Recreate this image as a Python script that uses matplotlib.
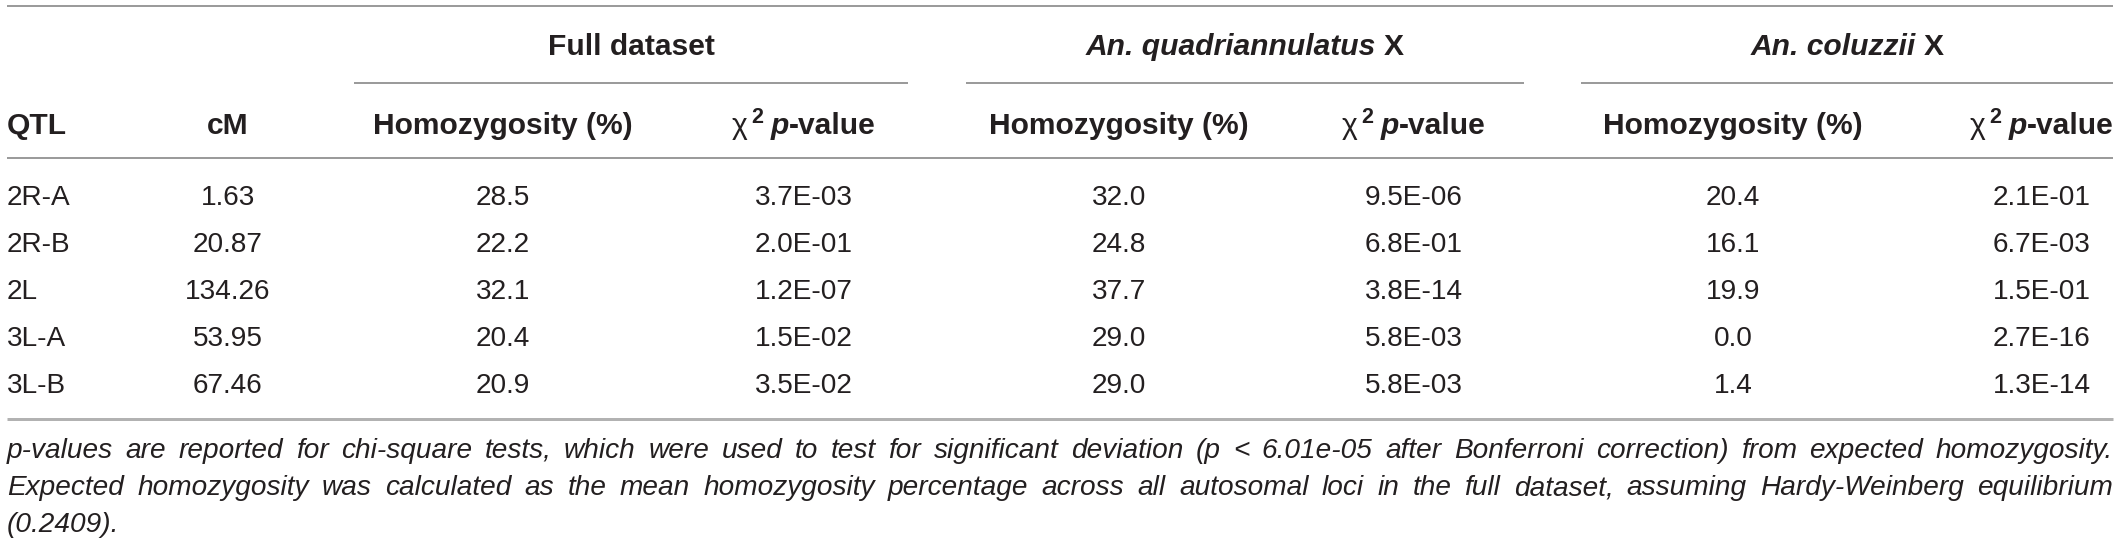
import matplotlib
matplotlib.use('Agg')
import matplotlib.pyplot as plt

# table values
qtl = ['2R-A', '2R-B', '2L', '3L-A', '3L-B']
cm = ['1.63', '20.87', '134.26', '53.95', '67.46']
full_hom = ['28.5', '22.2', '32.1', '20.4', '20.9']
full_p = ['3.7E-03', '2.0E-01', '1.2E-07', '1.5E-02', '3.5E-02']
quad_hom = ['32.0', '24.8', '37.7', '29.0', '29.0']
quad_p = ['9.5E-06', '6.8E-01', '3.8E-14', '5.8E-03', '5.8E-03']
col_hom = ['20.4', '16.1', '19.9', '0.0', '1.4']
col_p = ['2.1E-01', '6.7E-03', '1.5E-01', '2.7E-16', '1.3E-14']

groups = ['Full dataset', 'An. quadriannulatus', 'An. coluzzii']
footnote = [
    'p-values are reported for chi-square tests, which were used to test for significant deviation '
    '(p < 6.01e-05 after Bonferroni correction) from expected homozygosity.',
    'Expected homozygosity was calculated as the mean homozygosity percentage across all autosomal '
    'loci in the full dataset, assuming Hardy-Weinberg equilibrium',
    '(0.2409).',
]

W, H = 2119, 542
INK = '#231f20'
FONT = 'Liberation Sans'

fig = plt.figure(figsize=(W / 100, H / 100), dpi=100)
ax = fig.add_axes([0, 0, 1, 1])
ax.set_xlim(0, W)
ax.set_ylim(H, 0)
ax.axis('off')
renderer = fig.canvas.get_renderer()


def pt(px):
    return px * 0.72


def text_w(t):
    return t.get_window_extent(renderer).width


def runs(xc, yc, parts, size, ha='center'):
    # parts: (string, weight, style, scale, raise_px, gap_before_px)
    items = []
    total = 0
    for s, weight, style, scale, rise, gap in parts:
        t = ax.text(0, 0, s, fontsize=pt(size * scale), family=FONT, weight=weight,
                    style=style, color=INK, va='baseline', ha='left')
        w = text_w(t)
        items.append((t, w, rise, gap))
        total += w + gap
    x = xc - total / 2 if ha == 'center' else xc
    base = yc + 0.358 * size
    for t, w, rise, gap in items:
        x += gap
        t.set_position((x, base - rise))
        x += w


def hline(x0, x1, y, lw=1.5, color='#7a7a7a'):
    ax.plot([x0, x1], [y, y], color=color, lw=lw * 0.72, solid_capstyle='butt')


LEFT, RIGHT = 7, 2113
HEAD = 30
BODY = 28

# rules
hline(LEFT, RIGHT, 6)
hline(LEFT, RIGHT, 158)
hline(LEFT, RIGHT, 419, lw=3, color='#b2b2b2')

# group headers with underline
spans = [(354, 908), (966, 1524), (1581, RIGHT)]
for (a, b), g in zip(spans, groups):
    hline(a, b, 83)
    xc = (a + b) / 2
    if g.startswith('An.'):
        runs(xc, 44, [(g, 'bold', 'italic', 1, 0, 0), ('X', 'bold', 'normal', 1, 0, 8)], HEAD)
    else:
        runs(xc, 44, [(g, 'bold', 'normal', 1, 0, 0)], HEAD)

# column headers
hom_x = [503, 1119, 1733]
p_x = [804, 1414, 2042]
runs(LEFT, 123, [('QTL', 'bold', 'normal', 1, 0, 0)], HEAD, ha='left')
runs(228, 123, [('cM', 'bold', 'normal', 1, 0, 0)], HEAD)
for x in hom_x:
    runs(x, 123, [('Homozygosity (%)', 'bold', 'normal', 1, 0, 0)], HEAD)
for x in p_x:
    runs(x, 123, [('\u03c7', 'normal', 'normal', 1, 0, 0),
                  ('2', 'bold', 'normal', 0.72, 11, 3),
                  ('p', 'bold', 'italic', 1, 0, 8),
                  ('-value', 'bold', 'normal', 1, 0, 0)], HEAD)

# body rows
row_y = [195, 242, 289, 336, 383]
cols = [(228, cm), (hom_x[0], full_hom), (p_x[0], full_p),
        (hom_x[1], quad_hom), (p_x[1], quad_p),
        (hom_x[2], col_hom), (p_x[2], col_p)]
for i, y in enumerate(row_y):
    runs(LEFT, y, [(qtl[i], 'normal', 'normal', 1, 0, 0)], BODY, ha='left')
    for x, vals in cols:
        runs(x, y, [(vals[i], 'normal', 'normal', 1, 0, 0)], BODY)

# footnote, justified
foot_y = [448, 485, 522]
for k, (line, y) in enumerate(zip(footnote, foot_y)):
    words = line.split(' ')
    ts = [ax.text(0, 0, w_, fontsize=pt(BODY), family=FONT, style='italic', color=INK,
                  va='baseline', ha='left') for w_ in words]
    ws = [text_w(t) for t in ts]
    if k < len(footnote) - 1 and len(words) > 1:
        gap = (RIGHT - LEFT - sum(ws)) / (len(words) - 1)
    else:
        gap = 0.28 * BODY
    x = LEFT
    for t, w_ in zip(ts, ws):
        t.set_position((x, y + 0.358 * BODY))
        x += w_ + gap

fig.savefig('out.png', dpi=100)
